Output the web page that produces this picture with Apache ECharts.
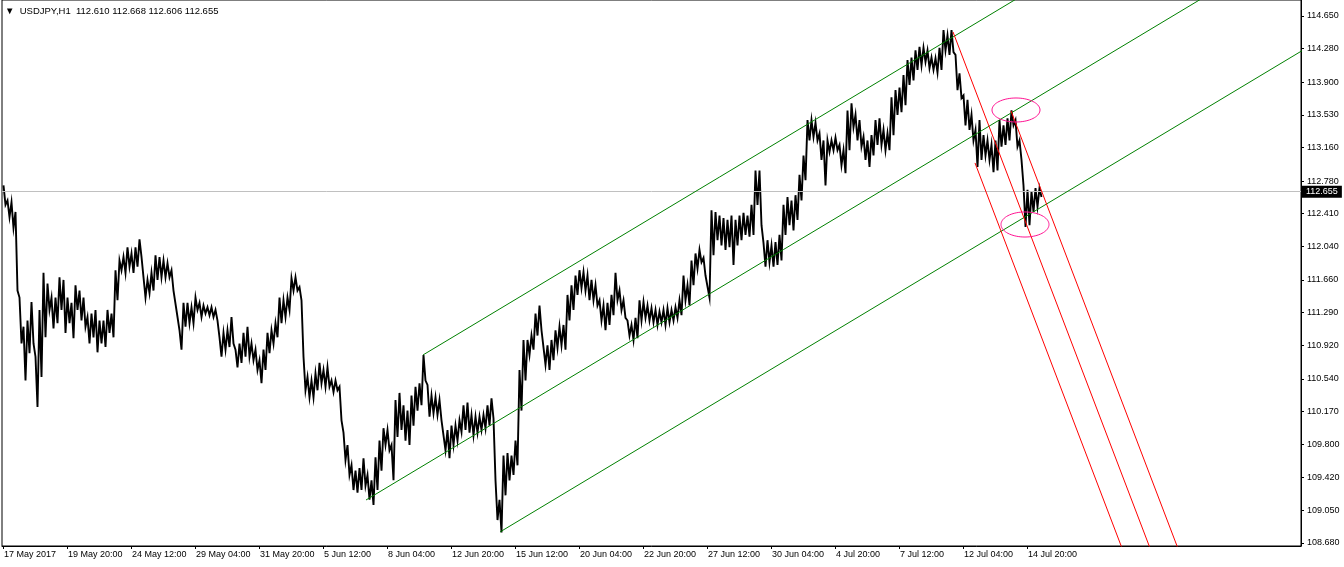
<!DOCTYPE html>
<html><head><meta charset="utf-8">
<script src="https://cdn.jsdelivr.net/npm/echarts@6/dist/echarts.min.js"></script>
<style>html,body{margin:0;padding:0;background:#fff}#c{width:1344px;height:567px}</style>
</head><body><div id="c"></div>
<script>
// ---- data (hourly bars grouped 4 per block: high / low of each block) ----
const barsPerBlock = 4;
const blockHigh = [
112.73,112.56,112.54,112.43,111.46,111.13,111.20,111.41,110.79,111.32,
111.74,111.62,111.46,111.46,111.69,111.66,111.46,111.40,111.60,111.54,
111.46,111.24,111.28,111.32,111.20,111.20,111.32,111.28,111.77,111.88,
111.92,112.03,111.96,112.03,112.12,111.69,111.66,111.74,111.94,111.92,
111.88,111.85,111.77,111.54,111.09,111.40,111.40,111.35,111.46,111.40,
111.37,111.35,111.35,111.32,111.01,111.06,111.09,111.24,110.87,110.94,
111.06,111.13,110.94,110.87,110.75,110.87,111.06,111.09,111.17,111.46,
111.43,111.46,111.68,111.69,111.58,110.79,110.56,110.52,110.60,110.72,
110.64,110.67,110.52,110.52,110.45,109.93,109.79,109.56,109.50,109.53,
109.64,109.45,109.39,109.65,109.84,109.98,109.96,109.79,110.30,110.38,
110.24,110.18,110.35,110.45,110.49,110.81,110.47,110.35,110.33,110.30,
110.07,109.96,110.01,110.01,110.07,110.24,110.27,110.13,110.11,110.11,
110.13,110.24,110.32,109.39,109.17,109.67,109.70,109.67,109.84,110.64,
110.98,110.98,111.03,111.28,111.37,111.09,110.92,110.98,111.09,111.13,
111.15,111.49,111.60,111.71,111.77,111.75,111.71,111.66,111.60,111.43,
111.37,111.40,111.49,111.74,111.54,111.43,111.20,111.15,111.23,111.43,
111.41,111.37,111.34,111.32,111.30,111.32,111.34,111.32,111.35,111.43,
111.71,111.60,111.88,111.96,112.00,111.91,111.71,112.45,112.43,112.39,
112.36,112.34,112.39,112.34,112.39,112.42,112.39,112.51,112.90,112.90,
112.08,112.11,112.05,112.09,112.17,112.51,112.60,112.56,112.62,112.85,
113.07,113.47,113.47,113.44,113.32,113.24,113.24,113.24,113.27,113.19,
113.13,113.58,113.66,113.53,113.47,113.28,113.24,113.30,113.47,113.49,
113.36,113.32,113.73,113.81,113.84,113.98,114.15,114.18,114.26,114.30,
114.29,114.26,114.18,114.17,114.29,114.49,114.43,114.49,114.21,114.00,
113.75,113.70,113.53,113.36,113.47,113.30,113.24,113.19,113.24,113.47,
113.41,113.49,113.58,113.47,113.24,112.73,112.68,112.66,112.70,112.70
];
const blockLow = [
112.51,112.37,112.25,111.54,110.94,110.52,110.83,110.94,110.22,110.56,
111.01,111.32,111.11,111.17,111.32,111.06,111.17,111.00,111.32,111.20,
111.13,110.94,111.01,110.84,110.94,110.90,111.06,111.01,111.43,111.77,
111.74,111.81,111.74,111.81,111.92,111.46,111.51,111.54,111.66,111.69,
111.69,111.69,111.54,111.24,110.87,111.13,111.17,111.17,111.32,111.24,
111.28,111.26,111.24,111.20,110.79,110.87,110.90,110.94,110.67,110.72,
110.79,110.79,110.75,110.64,110.49,110.64,110.83,110.94,111.01,111.17,
111.24,111.32,111.54,111.54,111.43,110.41,110.33,110.33,110.41,110.49,
110.45,110.45,110.39,110.41,110.07,109.62,109.45,109.28,109.25,109.28,
109.33,109.17,109.11,109.28,109.50,109.79,109.73,109.39,109.88,109.96,
109.84,109.79,110.01,110.18,110.24,110.52,110.11,110.15,110.13,110.07,
109.73,109.64,109.79,109.84,109.94,109.96,109.93,109.90,109.93,109.96,
109.98,110.01,110.09,108.94,108.80,109.22,109.39,109.45,109.56,110.18,
110.52,110.81,110.87,111.03,111.09,110.70,110.64,110.75,110.89,110.92,
110.87,111.20,111.32,111.49,111.57,111.54,111.43,111.43,111.37,111.20,
111.09,111.15,111.26,111.43,111.32,111.23,111.03,110.98,111.00,111.20,
111.23,111.20,111.18,111.15,111.18,111.15,111.18,111.20,111.23,111.26,
111.43,111.37,111.60,111.79,111.86,111.71,111.46,111.94,112.11,112.05,
112.00,112.03,111.83,112.05,112.11,112.17,112.15,112.17,112.51,112.28,
111.81,111.86,111.81,111.83,111.88,112.17,112.28,112.22,112.34,112.56,
112.79,113.24,113.28,113.24,113.02,112.73,113.11,113.13,113.13,112.96,
112.87,113.13,113.39,113.24,113.17,113.02,112.94,113.07,113.19,113.19,
113.13,113.13,113.30,113.53,113.56,113.64,113.87,113.92,114.04,114.09,
114.13,114.06,114.04,114.01,114.04,114.26,114.21,114.24,113.81,113.72,
113.41,113.36,113.24,112.94,113.02,113.07,113.02,112.88,112.90,113.17,
113.19,113.24,113.41,113.17,113.02,112.26,112.28,112.43,112.49,112.60
];

// time axis labels (one every 64 hourly bars)
const barsPerTimeLabel = 64;
const timeLabels = ['17 May 2017','19 May 20:00','24 May 12:00','29 May 04:00','31 May 20:00',
  '5 Jun 12:00','8 Jun 04:00','12 Jun 20:00','15 Jun 12:00','20 Jun 04:00','22 Jun 20:00',
  '27 Jun 12:00','30 Jun 04:00','4 Jul 20:00','7 Jul 12:00','12 Jul 04:00','14 Jul 20:00'];

// price axis labels
const priceTickLabels = ['108.680','109.050','109.420','109.800','110.170','110.540','110.920',
  '111.290','111.660','112.040','112.410','112.780','113.160','113.530','113.900','114.280','114.650'];

const symbolName = 'USDJPY,H1';
const lastOHLC = ['112.610','112.668','112.606','112.655'];
const lastPrice = 112.655;

// trend lines: [startBar, startPrice, endBar, endPrice]
const greenLines = [
  [420, 110.810, 1400, 117.471],
  [363, 109.167, 1400, 116.215],
  [497, 108.805, 1400, 114.943]
];
const redLines = [
  [950, 114.469, 1170, 107.940],
  [972, 112.985, 1170, 107.108],
  [1008, 113.574, 1200, 107.875]
];
// ellipses: [centerBar, centerPrice, halfWidthBars, halfHeightPrice]
const ellipses = [
  [1013, 113.585, 24, 0.136],
  [1022, 112.288, 24, 0.142]
];

// ---- chart ----
const FONT = 'Liberation Sans';
// each block drawn as a high -> low stroke (dense bar look)
const pricePath = [];
blockHigh.forEach((h, i) => {
  pricePath.push([i * barsPerBlock + 0.5, h]);
  pricePath.push([i * barsPerBlock + 2.5, blockLow[i]]);
});
const timeTicks = timeLabels.map((_, i) => i * barsPerTimeLabel);
const timeMap = {}; timeTicks.forEach((v, i) => timeMap[v] = timeLabels[i]);
const priceTicks = priceTickLabels.map(Number);
const priceMap = {}; priceTicks.forEach((v, i) => priceMap[v] = priceTickLabels[i]);

const lineSeries = (arr, color) => arr.map(l => ({
  type: 'line', data: [[l[0], l[1]], [l[2], l[3]]], symbol: 'none', clip: true, z: 5,
  lineStyle: { color, width: 1 }, silent: true
}));

const chart = echarts.init(document.getElementById('c'), null, { renderer: 'canvas' });
chart.setOption({
  animation: false,
  backgroundColor: '#fff',
  title: {
    text: '\u25BC  ' + symbolName + '  ' + lastOHLC.join(' '),
    left: 3, top: 5, padding: [1, 3, 2, 2], backgroundColor: '#fff',
    textStyle: { fontFamily: FONT, fontSize: 9.5, fontWeight: 'normal', color: '#000' }
  },
  grid: { left: 2, right: 43, top: 0, bottom: 21, show: true, borderColor: '#000', borderWidth: 1, backgroundColor: '#fff' },
  xAxis: {
    type: 'value', min: -1, max: 1298,
    axisLine: { show: true, onZero: false, lineStyle: { color: '#000', width: 1 } },
    splitLine: { show: false },
    axisTick: { show: true, customValues: timeTicks, length: 3, lineStyle: { color: '#000' } },
    axisLabel: { customValues: timeTicks, formatter: v => timeMap[v] || '', align: 'left', margin: 4,
      padding: [0, 0, 0, 1], color: '#000', fontFamily: FONT, fontSize: 9 }
  },
  yAxis: {
    type: 'value', position: 'right', min: 108.646, max: 114.831,
    axisLine: { show: true, onZero: false, lineStyle: { color: '#000', width: 1 } },
    splitLine: { show: false },
    axisTick: { show: true, customValues: priceTicks, length: 3, lineStyle: { color: '#000' } },
    axisLabel: { customValues: priceTicks, formatter: v => priceMap[v] || '', align: 'left', margin: 6,
      color: '#000', fontFamily: FONT, fontSize: 9 }
  },
  series: [
    {
      type: 'line', data: [], z: 1, silent: true,
      markLine: {
        silent: true, symbol: 'none', animation: false,
        lineStyle: { color: '#c0c0c0', width: 1, type: 'solid' },
        label: { show: true, position: 'end', distance: 0, formatter: lastOHLC[3],
          backgroundColor: '#000', color: '#fff', padding: [2, 4, 1, 5], fontFamily: FONT, fontSize: 9 },
        data: [{ yAxis: lastPrice }]
      }
    },
    {
      type: 'line', z: 3, silent: true, clip: true, symbol: 'none',
      lineStyle: { color: '#000', width: 1.9, join: 'miter' },
      data: pricePath
    },
    ...lineSeries(greenLines, '#008000'),
    ...lineSeries(redLines, '#ff0000'),
    {
      type: 'custom', z: 6, silent: true, clip: true,
      renderItem: (params, api) => {
        const cx = api.value(0), cy = api.value(1), rx = api.value(2), ry = api.value(3);
        const pts = [];
        for (let k = 0; k < 72; k++) {
          const a = k / 72 * Math.PI * 2;
          pts.push(api.coord([cx + rx * Math.cos(a), cy + ry * Math.sin(a)]));
        }
        return { type: 'polygon', shape: { points: pts }, style: { fill: 'none', stroke: '#ff1493', lineWidth: 1 } };
      },
      data: ellipses
    }
  ]
});
</script></body></html>
